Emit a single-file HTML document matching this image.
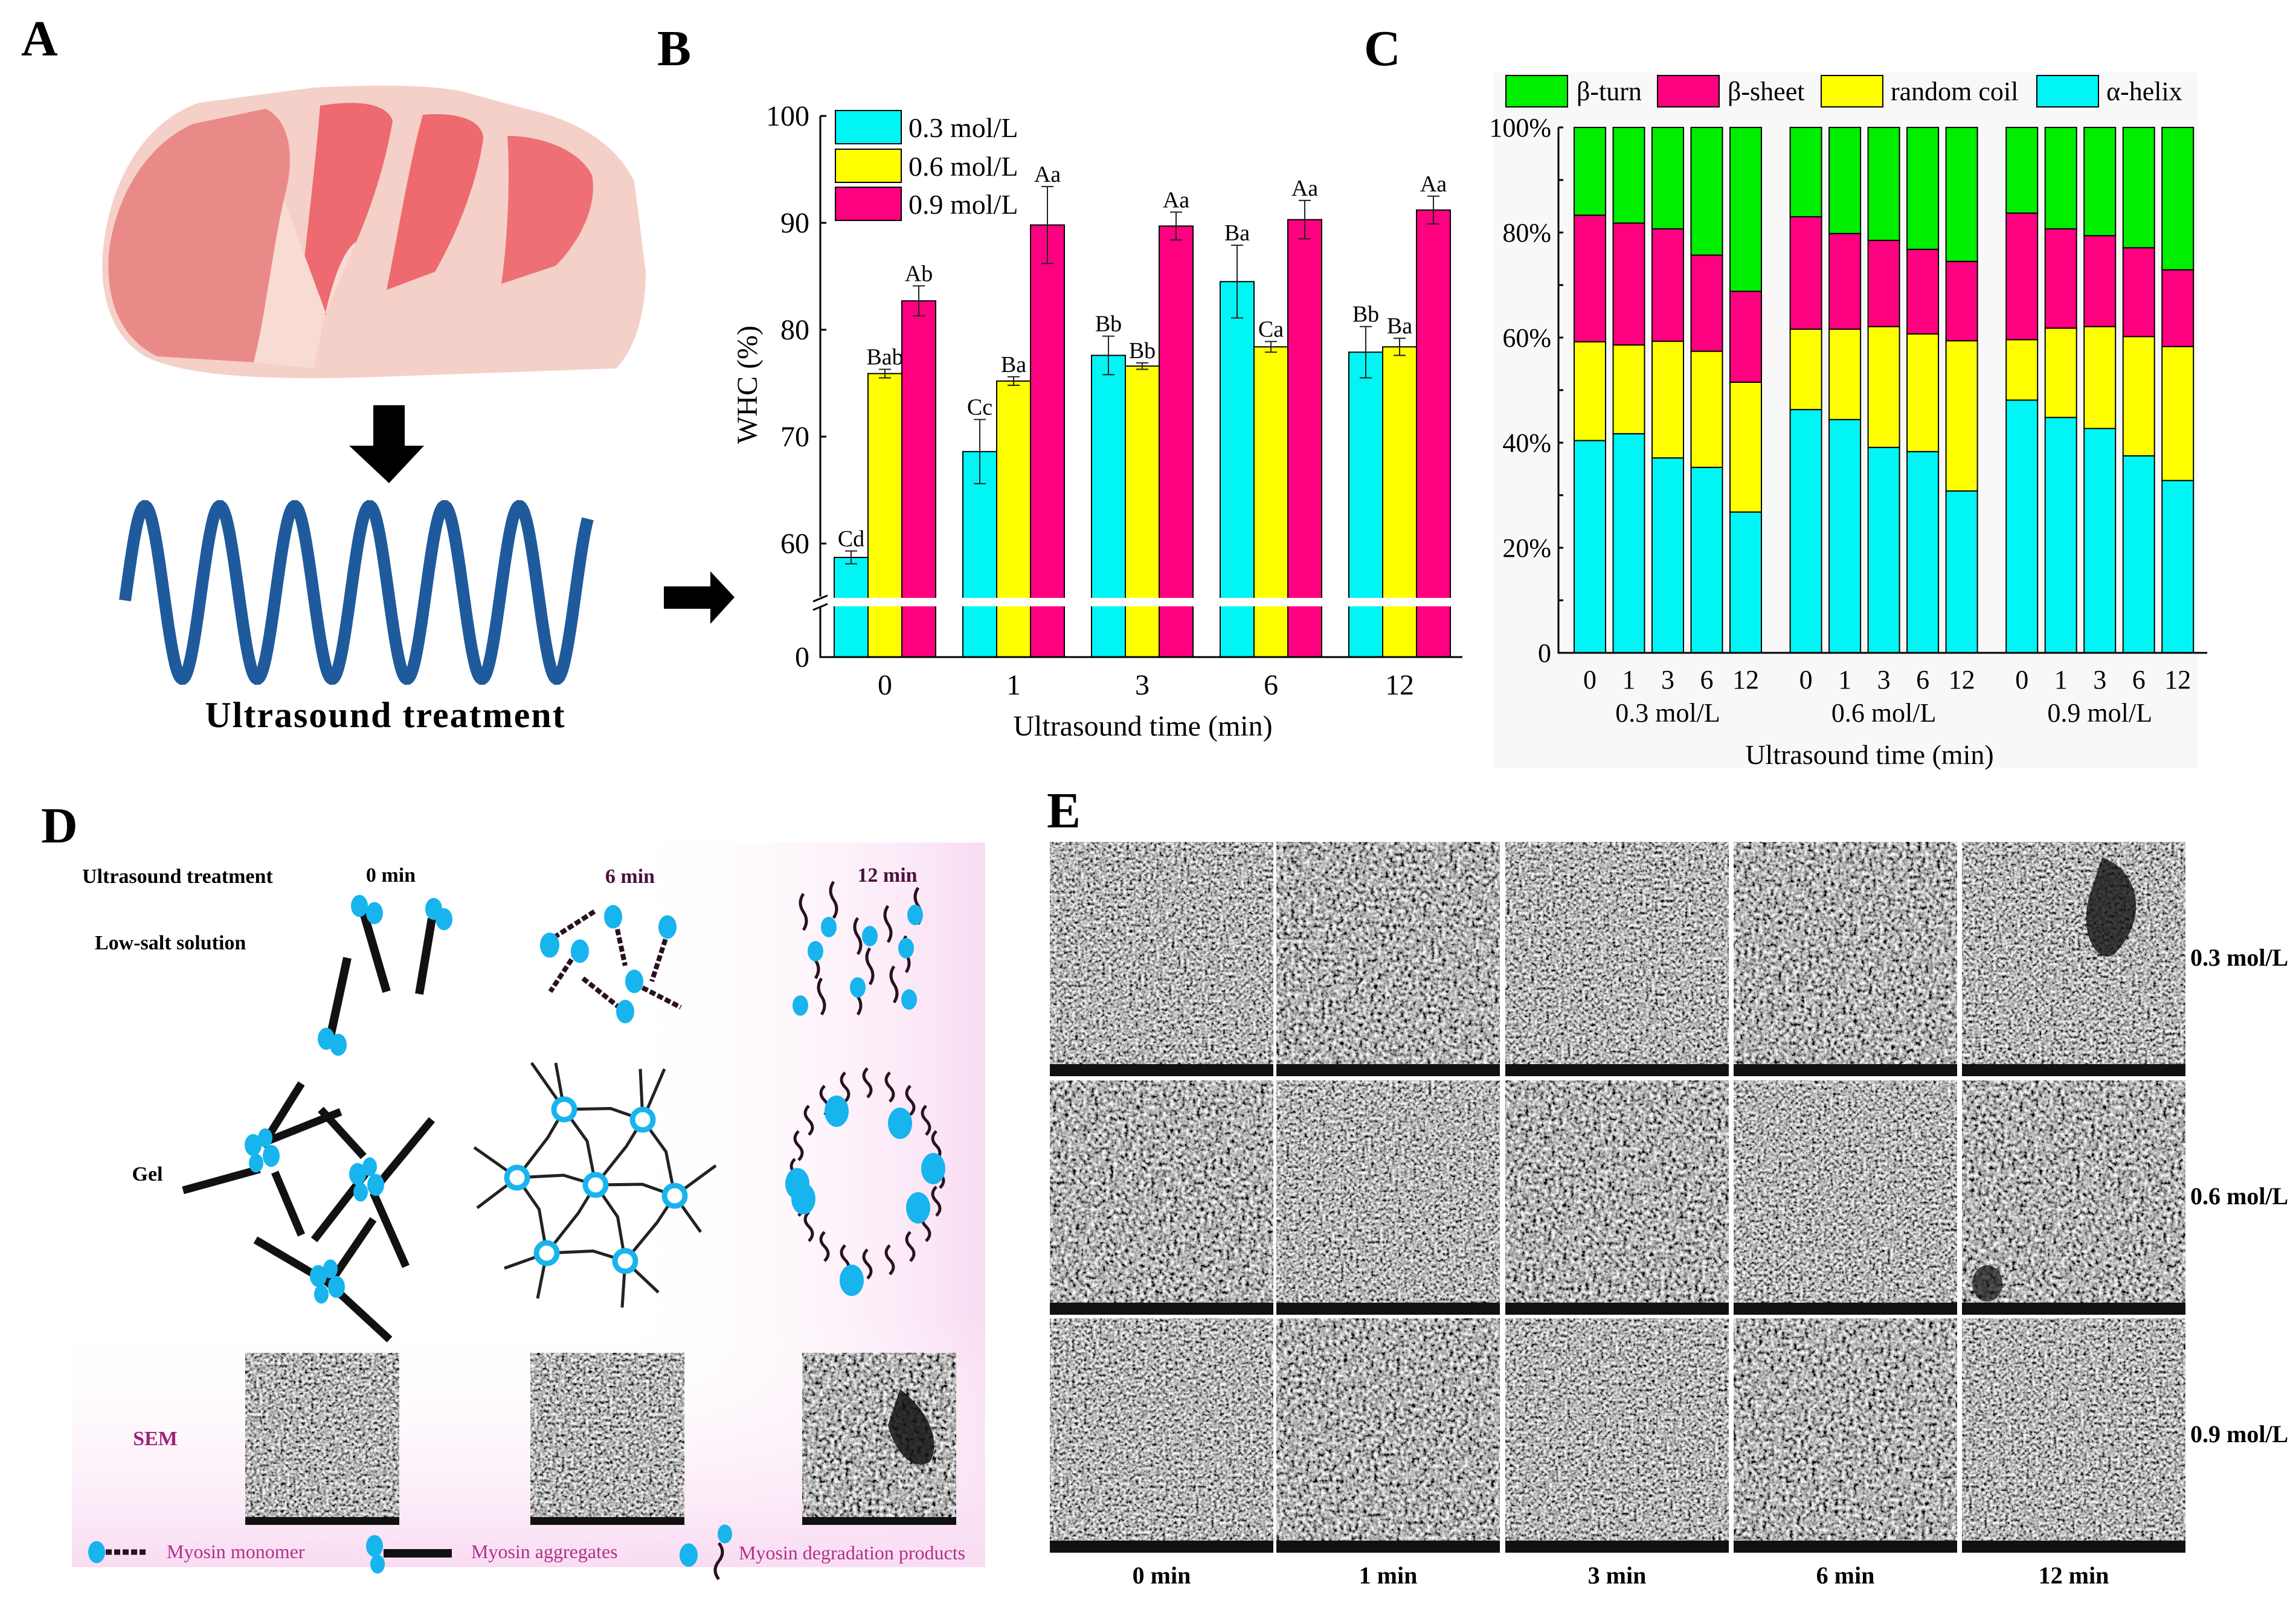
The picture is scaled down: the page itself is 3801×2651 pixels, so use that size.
<!DOCTYPE html>
<html><head><meta charset="utf-8"><style>
html,body{margin:0;padding:0;background:#fff;}
svg{display:block;font-family:"Liberation Serif",serif;}
</style></head><body>
<svg id="fig" width="3801" height="2651" viewBox="0 0 3801 2651" xmlns="http://www.w3.org/2000/svg">
<defs>
<filter id="semf" x="0" y="0" width="1" height="1"><feTurbulence type="fractalNoise" baseFrequency="0.16" numOctaves="3" seed="3"/><feColorMatrix type="matrix" values="1 0 0 0 0 1 0 0 0 0 1 0 0 0 0 0 0 0 0 1"/><feComponentTransfer><feFuncR type="linear" slope="1.9" intercept="-0.5"/><feFuncG type="linear" slope="1.9" intercept="-0.5"/><feFuncB type="linear" slope="1.9" intercept="-0.5"/></feComponentTransfer></filter>
<filter id="semf2" x="0" y="0" width="1" height="1"><feTurbulence type="fractalNoise" baseFrequency="0.2" numOctaves="3" seed="11"/><feColorMatrix type="matrix" values="1 0 0 0 0 1 0 0 0 0 1 0 0 0 0 0 0 0 0 1"/><feComponentTransfer><feFuncR type="linear" slope="1.9" intercept="-0.48"/><feFuncG type="linear" slope="1.9" intercept="-0.48"/><feFuncB type="linear" slope="1.9" intercept="-0.48"/></feComponentTransfer></filter>
<linearGradient id="pinkH" x1="0" x2="1" y1="0" y2="0"><stop offset="0.6" stop-color="#fff" stop-opacity="0"/><stop offset="1" stop-color="#f9dcf2"/></linearGradient>
<linearGradient id="pinkV" x1="0" x2="0" y1="0" y2="1"><stop offset="0.65" stop-color="#fff" stop-opacity="0"/><stop offset="1" stop-color="#f9dcf2"/></linearGradient>
</defs>
<rect width="3801" height="2651" fill="#fff"/>

<g font-weight="bold" font-size="84" fill="#000">
<text x="35" y="92">A</text>
<text x="1088" y="108">B</text>
<text x="2258" y="108">C</text>
<text x="68" y="1395">D</text>
<text x="1733" y="1370">E</text>
</g>

<g>
<path d="M170,420 C180,300 240,200 330,170 L520,145 C620,140 700,140 760,150 L870,180 C960,200 1020,240 1050,300 L1069,450 C1069,520 1050,580 1020,610 L600,625 C420,630 300,620 240,590 C190,560 165,500 170,420 Z" fill="#f5d0c8"/>
<path d="M180,420 C190,330 240,240 320,205 L440,180 C480,200 490,260 470,330 C450,420 440,520 420,600 L260,590 C200,560 175,500 180,420 Z" fill="#ea8a88"/>
<path d="M530,175 C590,165 640,170 650,200 C640,260 620,330 590,400 L540,520 L490,560 C500,450 520,300 530,175 Z" fill="#ec6a70"/>
<path d="M700,190 C760,185 800,200 800,230 C790,300 760,380 720,450 L640,480 C660,380 680,260 700,190 Z" fill="#ee6a6e"/>
<path d="M840,225 C900,225 960,250 980,290 C990,340 960,400 920,440 L830,470 C840,400 845,300 840,225 Z" fill="#ee7074"/>
<path d="M470,330 C450,420 440,520 420,600 L520,610 C540,500 560,420 590,400 L540,520 Z" fill="#f8dcd4"/>
</g>
<polygon points="618,671 670,671 670,738 702,738 644,800 578,738 618,738" fill="#000"/>
<path id="wave" fill="none" stroke="#1f5b9c" stroke-width="20" stroke-linecap="butt"/>
<text x="638" y="1204" text-anchor="middle" font-weight="bold" font-size="60" letter-spacing="2">Ultrasound treatment</text>
<polygon points="1099,971 1176,971 1176,946 1216,989 1176,1033 1176,1008 1099,1008" fill="#000"/>

<g id="chartB"></g>

<rect x="2472" y="120" width="1166" height="1152" fill="#f8f8f8"/>
<g id="chartC"></g>

<g>
<rect x="119" y="1395" width="1512" height="1200" fill="url(#pinkH)"/>
<rect x="119" y="1395" width="1512" height="1200" fill="url(#pinkV)"/>
<g font-size="34" font-weight="bold">
<text x="136" y="1462">Ultrasound treatment</text>
<text x="647" y="1460" text-anchor="middle">0 min</text>
<text x="1043" y="1462" text-anchor="middle" fill="#4a1040">6 min</text>
<text x="1469" y="1460" text-anchor="middle" fill="#4a1040">12 min</text>
<text x="157" y="1572">Low-salt solution</text>
<text x="244" y="1955" text-anchor="middle">Gel</text>
<text x="257" y="2393" text-anchor="middle" fill="#a0207a">SEM</text>
</g>
<g id="diagD"></g>
<rect x="406" y="2240" width="255" height="285" filter="url(#semf2)"/>
<rect x="878" y="2240" width="255" height="285" filter="url(#semf2)"/>
<rect x="1328" y="2240" width="255" height="285" filter="url(#semf)"/>
<path d="M1490,2300 C1530,2330 1560,2380 1540,2420 C1510,2440 1480,2400 1470,2360 Z" fill="#111" opacity="0.85"/>
<rect x="406" y="2512" width="255" height="13" fill="#111"/><rect x="878" y="2512" width="255" height="13" fill="#111"/><rect x="1328" y="2512" width="255" height="13" fill="#111"/>
<g font-size="32" fill="#b0308a">
<text x="276" y="2580">Myosin monomer</text>
<text x="780" y="2580">Myosin aggregates</text>
<text x="1223" y="2582">Myosin degradation products</text>
</g>
</g>

<g id="gridE"></g>
</svg>
<script>
var NS='http://www.w3.org/2000/svg';
function mk(parent,tag,attrs,text){var e=document.createElementNS(NS,tag);for(var k in attrs)e.setAttribute(k,attrs[k]);if(text!==undefined)e.textContent=text;parent.appendChild(e);return e;}

var timesB=['0','1','3','6','12'];
var seriesNamesB=['0.3 mol/L','0.6 mol/L','0.9 mol/L'];
var whc03=[58.7,68.6,77.6,84.5,77.9];
var whc06=[75.9,75.2,76.6,78.4,78.4];
var whc09=[82.7,89.8,89.7,90.3,91.2];
var err03=[0.6,3.0,1.8,3.4,2.4];
var err06=[0.4,0.4,0.3,0.5,0.8];
var err09=[1.4,3.6,1.3,1.8,1.3];
var let03=['Cd','Cc','Bb','Ba','Bb'];
var let06=['Bab','Ba','Bb','Ca','Ba'];
var let09=['Ab','Aa','Aa','Aa','Aa'];
var ticksB=[60,70,80,90,100];

var groupsC=['0.3 mol/L','0.6 mol/L','0.9 mol/L'];
var timesC=['0','1','3','6','12'];
var helix=[40.4,41.7,37.1,35.3,26.8, 46.3,44.4,39.1,38.3,30.8, 48.1,44.8,42.7,37.5,32.8];
var coil=[18.8,16.9,22.2,22.1,24.7, 15.3,17.2,23.0,22.4,28.6, 11.5,17.0,19.4,22.7,25.5];
var sheet=[24.1,23.2,21.4,18.3,17.3, 21.4,18.2,16.4,16.1,15.1, 24.1,18.9,17.3,16.9,14.6];
var turn=[16.7,18.2,19.3,24.3,31.2, 17.0,20.2,21.5,23.2,25.5, 16.3,19.3,20.6,22.9,27.1];
var ticksC=[0,20,40,60,80,100];

(function(){
  var g=document.getElementById('chartB');
  var x0=1358,xEnd=2421,yBase=1088;
  function yB(v){return 369+(90-v)*17.7;}
  function xB(i,s){return 1381+i*213+s*56;}
  var cols=['#00f5f5','#ffff00','#ff0080'];
  var vals=[whc03,whc06,whc09],errs=[err03,err06,err09],lets=[let03,let06,let09];
  for(var s=0;s<3;s++){for(var i=0;i<5;i++){
    var v=vals[s][i],x=xB(i,s),y=yB(v);
    var r=mk(g,'rect',{x:x,y:y,width:56,height:yBase-y,fill:cols[s],stroke:'#000','stroke-width':2});
    
    
    var e=errs[s][i],cx=x+28;
    var eb=mk(g,'path',{d:'M'+cx+','+yB(v+e)+'V'+yB(v-e)+'M'+(cx-10)+','+yB(v+e)+'h20M'+(cx-10)+','+yB(v-e)+'h20',stroke:'#222','stroke-width':2,fill:'none'});
    
    
    var t=mk(g,'text',{x:cx,y:yB(v+e)-8,'text-anchor':'middle','font-size':38},lets[s][i]);
    
    
  }}
  var br=mk(g,'rect',{x:x0-20,y:990,width:xEnd-x0+25,height:14,fill:'#fff'});
  
  
  var ax=mk(g,'path',{d:'M'+x0+','+yB(100)+'V988M'+x0+',1006V'+yBase+'H'+xEnd+'M'+(x0-12)+',996l24,-10M'+(x0-12)+',1010l24,-10',stroke:'#000','stroke-width':3,fill:'none'});
  
  
  ticksB.forEach(function(tv){
    mk(g,'line',{x1:x0,x2:x0+10,y1:yB(tv),y2:yB(tv),stroke:'#000','stroke-width':3});
    var t=mk(g,'text',{x:x0-18,y:yB(tv)+16,'text-anchor':'end','font-size':48},String(tv));
    
    
  });
  var t0=mk(g,'text',{x:x0-18,y:yBase+16,'text-anchor':'end','font-size':48},'0');
  
  
  timesB.forEach(function(c,i){
    var t=mk(g,'text',{x:xB(i,1)+28,y:1150,'text-anchor':'middle','font-size':48},c);
    
    
  });
  var xt=mk(g,'text',{x:1892,y:1218,'text-anchor':'middle','font-size':48},'Ultrasound time (min)');
  
  
  var yt=mk(g,'text',{x:0,y:0,'text-anchor':'middle','font-size':48,transform:'translate(1253,637) rotate(-90)'},'WHC (%)');
  
  
  var ly=[183,247,310];
  for(var s2=0;s2<3;s2++){
    var lb=mk(g,'rect',{x:1383,y:ly[s2],width:109,height:55,fill:cols[s2],stroke:'#000','stroke-width':2});
    
    
    var lt=mk(g,'text',{x:1504,y:ly[s2]+44,'font-size':46},seriesNamesB[s2]);
    
    
  }
})();

(function(){
  var g=document.getElementById('chartC');
  var x0=2580,xEnd=3654,y0=1081;
  function yC(p){return y0-p*8.7;}
  function xC(gi,i){return 2606+gi*357.6+i*64.5;}
  var layers=[['helix',helix,'#00f5f5'],['coil',coil,'#ffff00'],['sheet',sheet,'#ff0080'],['turn',turn,'#00ee00']];
  for(var k=0;k<15;k++){
    var gi=Math.floor(k/5),i=k%5,acc=0;
    layers.forEach(function(L){
      var v=L[1][k];
      var r=mk(g,'rect',{x:xC(gi,i),y:yC(acc+v),width:52,height:v*8.7,fill:L[2],stroke:'#000','stroke-width':2});
      
      
      acc+=v;
    });
    var t=mk(g,'text',{x:xC(gi,i)+26,y:1140,'text-anchor':'middle','font-size':44},timesC[i]);
    
    
  }
  var ax=mk(g,'path',{d:'M'+x0+','+yC(100)+'V'+y0+'H'+xEnd,stroke:'#000','stroke-width':3,fill:'none'});
  
  
  for(var m=0;m<=100;m+=10){mk(g,'line',{x1:x0,x2:x0+8,y1:yC(m),y2:yC(m),stroke:'#000','stroke-width':3});}
  ticksC.forEach(function(tv){
    var t=mk(g,'text',{x:x0-12,y:yC(tv)+15,'text-anchor':'end','font-size':44},tv===0?'0':tv+'%');
    
    
  });
  groupsC.forEach(function(n,gi){
    var t=mk(g,'text',{x:xC(gi,2)+26,y:1195,'text-anchor':'middle','font-size':44},n);
    
    
  });
  var xt=mk(g,'text',{x:3095,y:1265,'text-anchor':'middle','font-size':46},'Ultrasound  time (min)');
  
  
  var leg=[['β-turn','#00ee00',2493,2610],['β-sheet','#ff0080',2744,2860],['random coil','#ffff00',3015,3130],['α-helix','#00f5f5',3372,3487]];
  leg.forEach(function(L){
    var b=mk(g,'rect',{x:L[2],y:125,width:102,height:52,fill:L[1],stroke:'#000','stroke-width':2});
    
    
    var t=mk(g,'text',{x:L[3],y:166,'font-size':44},L[0]);
    
    
  });
})();

(function(){
  var d='',n=0;
  for(var x=207;x<=973;x+=2){
    var y=981-143*Math.sin((x-214)/124*2*Math.PI+Math.PI/12);
    d+=(n++?'L':'M')+x+','+y.toFixed(1);
  }
  document.getElementById('wave').setAttribute('d',d);
})();

(function(){
  var g=document.getElementById('diagD');
  function rod(x1,y1,x2,y2,w,c){mk(g,'line',{x1:x1,y1:y1,x2:x2,y2:y2,stroke:c||'#111','stroke-width':w||14,'stroke-linecap':'butt'});}
  function chain(x1,y1,x2,y2){mk(g,'line',{x1:x1,y1:y1,x2:x2,y2:y2,stroke:'#2a1020','stroke-width':8,'stroke-dasharray':'10 4'});}
  function blob(x,y,r){mk(g,'ellipse',{cx:x,cy:y,rx:r||14,ry:(r||14)*1.3,fill:'#17b4ee'});}
  rod(602,1512,640,1642);rod(715,1521,694,1646);rod(575,1586,547,1716);
  blob(595,1500);blob(620,1512);blob(718,1505);blob(735,1522);blob(540,1720);blob(560,1730);
  chain(905,1560,986,1508);chain(1019,1525,1035,1599);chain(1106,1542,1079,1625);chain(954,1577,911,1642);chain(965,1620,1030,1672);chain(1051,1629,1127,1668);
  blob(910,1565,16);blob(1015,1518,15);blob(1105,1535,15);blob(960,1575,15);blob(1035,1675,15);blob(1050,1625,15);
  var pts=[[1330,1540],[1380,1520],[1420,1580],[1470,1560],[1520,1530],[1350,1620],[1440,1630],[1500,1610],[1360,1680],[1420,1680],[1480,1660]];
  pts.forEach(function(p){mk(g,'path',{d:'M'+p[0]+','+p[1]+'q10,-15 0,-30q-10,-15 0,-30',stroke:'#2a1020','stroke-width':5,fill:'none'});});
  [[1325,1665],[1372,1535],[1440,1550],[1500,1570],[1350,1575],[1505,1655],[1420,1635],[1515,1515]].forEach(function(p){blob(p[0],p[1],13);});
  [[303,1971,430,1936],[434,1898,499,1794],[444,1889,564,1841],[531,1837,602,1915],[455,1941,499,2045],[520,2053,607,1941],[629,1958,715,1854],[618,1975,672,2097],[423,2053,542,2123],[542,2123,645,2218],[547,2123,618,2019]].forEach(function(r){rod(r[0],r[1],r[2],r[3],13);});
  [[434,1906],[607,1954],[542,2123]].forEach(function(c){blob(c[0]-15,c[1]-10,14);blob(c[0]+15,c[1]+8,14);blob(c[0]+5,c[1]-22,12);blob(c[0]-10,c[1]+20,12);});
  var nodes=[[934,1837],[1064,1854],[856,1950],[986,1962],[1117,1980],[905,2075],[1035,2088]];
  var links=[[0,1],[0,2],[0,3],[1,3],[1,4],[2,3],[3,4],[2,5],[3,5],[3,6],[4,6],[5,6]];
  links.forEach(function(l){var a=nodes[l[0]],b=nodes[l[1]];var mx=(a[0]+b[0])/2+12,my=(a[1]+b[1])/2-10;
    mk(g,'path',{d:'M'+a[0]+','+a[1]+'L'+mx+','+my+'L'+b[0]+','+b[1],stroke:'#222','stroke-width':5,fill:'none'});});
  [[934,1837,880,1760],[1064,1854,1100,1770],[856,1950,785,1900],[856,1950,790,2000],[1117,1980,1185,1930],[1117,1980,1160,2040],[905,2075,890,2150],[905,2075,835,2100],[1035,2088,1030,2165],[1035,2088,1090,2140],[934,1837,920,1760],[1064,1854,1060,1770]].forEach(function(s){
    mk(g,'line',{x1:s[0],y1:s[1],x2:s[2],y2:s[3],stroke:'#222','stroke-width':5});});
  nodes.forEach(function(n){mk(g,'circle',{cx:n[0],cy:n[1],r:17,fill:'#fff',stroke:'#17b4ee','stroke-width':9});});
  for(var a=0;a<360;a+=18){var rad=a*Math.PI/180;var cx=1436+120*Math.cos(rad),cy=1967+150*Math.sin(rad);
    mk(g,'path',{d:'M'+cx.toFixed(0)+','+cy.toFixed(0)+'q12,-12 0,-24q-12,-12 0,-24',stroke:'#2a1020','stroke-width':5,fill:'none'});}
  [[1320,1960],[1385,1840],[1490,1860],[1545,1935],[1410,2120],[1520,2000],[1330,1985]].forEach(function(p){blob(p[0],p[1],20);});
  blob(160,2570,14);mk(g,'line',{x1:175,y1:2570,x2:244,y2:2570,stroke:'#2a1020','stroke-width':9,'stroke-dasharray':'10 4'});
  blob(620,2560,14);blob(625,2590,12);rod(635,2572,748,2572,14);
  blob(1140,2575,15);blob(1200,2540,12);mk(g,'path',{d:'M1190,2555q12,15 0,30q-12,15 0,30',stroke:'#2a1020','stroke-width':5,fill:'none'});
})();

(function(){
  var g=document.getElementById('gridE');
  var colX=[1738,2113,2492,2870,3248],rowY=[1394,1789,2183];
  var concE=['0.3 mol/L','0.6 mol/L','0.9 mol/L'],timeE=['0 min','1 min','3 min','6 min','12 min'];
  for(var r=0;r<3;r++){for(var c=0;c<5;c++){
    var im=mk(g,'rect',{x:colX[c],y:rowY[r],width:370,height:388,filter:(r+c)%2?'url(#semf)':'url(#semf2)'});
    
    
    mk(g,'rect',{x:colX[c],y:rowY[r]+368,width:370,height:20,fill:'#111'});
  }}
  mk(g,'path',{d:'M3480,1420 C3540,1440 3560,1520 3500,1580 C3470,1600 3440,1540 3460,1480 Z',fill:'#111',opacity:0.8});
  mk(g,'ellipse',{cx:3290,cy:2125,rx:25,ry:30,fill:'#111',opacity:0.7});
  concE.forEach(function(n,r){
    var t=mk(g,'text',{x:3626,y:rowY[r]+205,'font-size':40,'font-weight':'bold'},n);
    
    
  });
  timeE.forEach(function(n,c){
    var t=mk(g,'text',{x:colX[c]+185,y:2622,'text-anchor':'middle','font-size':40,'font-weight':'bold'},n);
    
    
  });
})();
</script>
</body></html>
